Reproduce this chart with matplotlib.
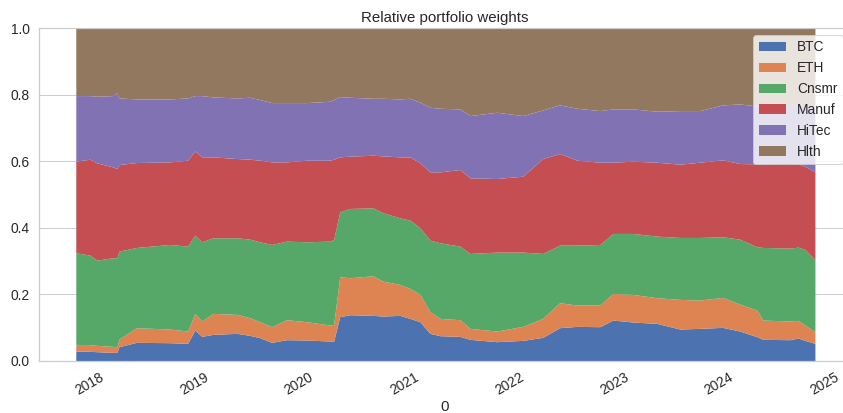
import numpy as np
import pandas as pd
import matplotlib
matplotlib.use("Agg")
import matplotlib.pyplot as plt
import matplotlib.dates as mdates
import seaborn as sns

# -------------------------------
# weights
# -------------------------------
dates = pd.to_datetime([
    "2017-09-18", "2017-11-06", "2017-11-30", "2018-01-24", "2018-02-08",
    "2018-02-15", "2018-04-17", "2018-08-10", "2018-10-12", "2018-11-06",
    "2018-11-30", "2019-01-08", "2019-04-01", "2019-05-16", "2019-06-20",
    "2019-07-31", "2019-09-21", "2019-11-30", "2020-02-18", "2020-03-03",
    "2020-03-24", "2020-04-28", "2020-07-17", "2020-08-21", "2020-10-19",
    "2020-11-23", "2020-12-28", "2021-02-01", "2021-03-08", "2021-05-16",
    "2021-06-20", "2021-09-21", "2021-12-21", "2022-02-28", "2022-04-28",
    "2022-06-27", "2022-09-15", "2022-10-30", "2023-01-08", "2023-04-01",
    "2023-06-20", "2023-08-28", "2023-11-16", "2024-01-14", "2024-03-14",
    "2024-04-04", "2024-07-07", "2024-08-04", "2024-08-28", "2024-10-02",
])

btc = [0.030, 0.029, 0.028, 0.026, 0.026, 0.043, 0.056, 0.055, 0.053, 0.093,
       0.074, 0.080, 0.083, 0.077, 0.070, 0.056, 0.064, 0.063, 0.060, 0.060,
       0.133, 0.139, 0.137, 0.135, 0.137, 0.128, 0.118, 0.083, 0.076, 0.074,
       0.065, 0.058, 0.062, 0.071, 0.100, 0.104, 0.103, 0.123, 0.117, 0.113,
       0.096, 0.098, 0.101, 0.090, 0.073, 0.065, 0.064, 0.069, 0.062, 0.053]
eth = [0.020, 0.020, 0.019, 0.018, 0.017, 0.023, 0.044, 0.041, 0.037, 0.050,
       0.046, 0.063, 0.057, 0.053, 0.048, 0.047, 0.060, 0.055, 0.048, 0.050,
       0.120, 0.111, 0.119, 0.105, 0.093, 0.090, 0.082, 0.065, 0.052, 0.050,
       0.033, 0.032, 0.042, 0.057, 0.075, 0.064, 0.065, 0.080, 0.083, 0.077,
       0.089, 0.085, 0.090, 0.081, 0.080, 0.058, 0.056, 0.053, 0.046, 0.035]
cnsmr = [0.275, 0.269, 0.256, 0.266, 0.267, 0.264, 0.241, 0.254, 0.255, 0.235,
         0.238, 0.227, 0.230, 0.236, 0.240, 0.247, 0.236, 0.240, 0.252, 0.255,
         0.195, 0.208, 0.204, 0.205, 0.200, 0.205, 0.200, 0.215, 0.227, 0.221,
         0.225, 0.237, 0.223, 0.195, 0.173, 0.180, 0.182, 0.180, 0.183, 0.185,
         0.186, 0.188, 0.182, 0.195, 0.190, 0.218, 0.219, 0.220, 0.227, 0.217]
manuf = [0.275, 0.288, 0.292, 0.273, 0.268, 0.260, 0.255, 0.248, 0.258, 0.253,
         0.255, 0.243, 0.238, 0.240, 0.245, 0.248, 0.238, 0.245, 0.243, 0.241,
         0.165, 0.157, 0.158, 0.171, 0.183, 0.190, 0.195, 0.205, 0.213, 0.230,
         0.227, 0.221, 0.228, 0.285, 0.275, 0.255, 0.247, 0.214, 0.217, 0.222,
         0.220, 0.226, 0.231, 0.227, 0.249, 0.251, 0.254, 0.250, 0.250, 0.263]
hitec = [0.197, 0.191, 0.200, 0.214, 0.227, 0.200, 0.191, 0.189, 0.187, 0.166,
         0.184, 0.180, 0.182, 0.186, 0.182, 0.178, 0.178, 0.173, 0.177, 0.179,
         0.181, 0.177, 0.171, 0.173, 0.174, 0.176, 0.182, 0.194, 0.191, 0.182,
         0.187, 0.199, 0.182, 0.146, 0.146, 0.156, 0.155, 0.160, 0.157, 0.153,
         0.161, 0.155, 0.165, 0.179, 0.174, 0.178, 0.177, 0.178, 0.185, 0.202]
hlth = [0.203, 0.203, 0.205, 0.203, 0.195, 0.210, 0.213, 0.213, 0.210, 0.203,
        0.203, 0.207, 0.210, 0.208, 0.215, 0.224, 0.224, 0.224, 0.220, 0.215,
        0.206, 0.208, 0.211, 0.211, 0.213, 0.211, 0.223, 0.238, 0.241, 0.243,
        0.263, 0.253, 0.263, 0.246, 0.231, 0.241, 0.248, 0.243, 0.243, 0.250,
        0.248, 0.248, 0.231, 0.228, 0.234, 0.230, 0.230, 0.230, 0.230, 0.230]

labels = ["BTC", "ETH", "Cnsmr", "Manuf", "HiTec", "Hlth"]

# -------------------------------
# plot
# -------------------------------
sns.set_theme(style="whitegrid", font_scale=1.25)
plt.rcParams["font.family"] = ["Liberation Sans", "DejaVu Sans"]
colors = sns.color_palette("deep", 6)

fig = plt.figure(figsize=(843 / 72, 413 / 72), dpi=72)
ax = fig.add_axes([39 / 843, 52 / 413, (850 - 39) / 843, 333 / 413])

ax.stackplot(dates, btc, eth, cnsmr, manuf, hitec, hlth,
             labels=labels, colors=colors, linewidth=0)

ax.set_ylim(0, 1)
ax.set_xlim(pd.Timestamp("2017-05-13"), pd.Timestamp("2025-02-01"))
ax.xaxis.set_major_locator(mdates.YearLocator())
ax.xaxis.set_major_formatter(mdates.DateFormatter("%Y"))
plt.setp(ax.get_xticklabels(), rotation=30, ha="right")
ax.xaxis.grid(False)
ax.spines["right"].set_visible(False)

ax.set_xlabel("0", labelpad=2)
ax.set_title("Relative portfolio weights")
ax.legend(loc="upper right")

fig.savefig("out.png", dpi=72)
